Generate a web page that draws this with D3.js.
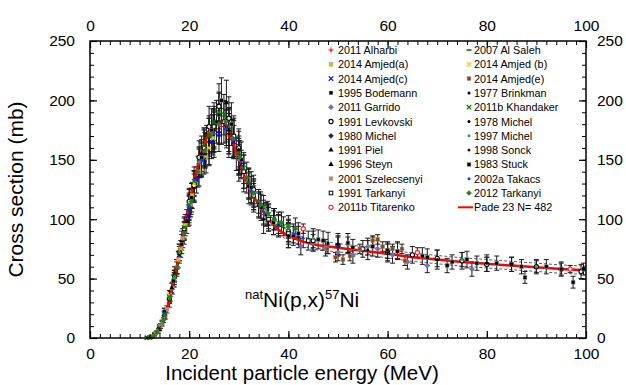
<!DOCTYPE html>
<html>
<head>
<meta charset="UTF-8">
<title>natNi(p,x)57Ni</title>
<script src="https://d3js.org/d3.v7.min.js"></script>
<style>
    body { margin: 0; background: #fff; }
    svg { display: block; font-family: Arial, "Liberation Sans", sans-serif; }
    .tick text { font-size: 15.5px; fill: #000; }
    .leg { font-size: 10.8px; fill: #000; }
</style>
</head>
<body>
<svg id="chart" width="626" height="385"></svg>
<script>
// ---- data: [energy MeV, cross section mb, error mb] ----
const alharbi2011 = [[13,3,1],[14.5,12,2],[16,30,4],[17.5,60,6],[19,90,8],[20.5,120,10],[22,147,12],[23.5,165,14],[25,175,15],[26.5,178,15],[28,170,15],[29.5,155,14],[31,135,12],[33,118,10],[35,104,9],[37,95,8]];
const amjedA2014 = [[12.5,1,1],[13.8,6,2],[15.2,19,3],[16.6,42,5],[17.8,66,7],[19.2,95,9],[20.6,120,11],[22,140,12],[23.4,152,13],[24.8,168,14]];
const amjedC2014 = [[18,70,7],[19.8,103,9],[21.5,133,11],[23,150,12],[24.5,165,14],[26,172,15],[27.5,177,15],[29,165,14],[30.5,146,12],[32,128,11],[34,112,10]];
const bodemann1995 = [[22.4,150,15],[26,188,18],[30,152,14],[35.5,104,10],[41,86,8],[47,82,8],[53,76,7],[60,74,7],[67,69,7],[73,64,6],[80,62,6],[87,60,6]];
const garrido2011 = [[40,89,8],[42.5,77,7],[45,80,7],[47.5,76,7],[50,72,7],[53,70,7],[56,77,7],[58,75,7],[61,70,7],[64,64,6],[68,61,6],[77,58,6]];
const levkovski1991 = [[14,8,1],[16,33,3],[18,72,7],[20,115,11],[22,152,14],[24,178,17],[26,195,19],[28,185,18],[30,160,16],[33,125,12],[36,102,10],[40,90,9],[45,82,8],[50,78,8],[55,75,7],[60,72,7],[65,70,7],[70,67,7],[75,65,7],[80,62,6],[85,62,6],[90,60,6],[95,58,6],[99,56,6]];
const michel1980 = [[15,22,3],[17,48,5],[20,108,11],[23,160,16],[26,182,18],[29,168,17],[32,130,13],[36,100,10],[42,85,9],[50,77,8]];
const piel1991 = [[18.5,82,8],[21,128,13],[25,175,18],[28,175,18],[31,140,14]];
const steyn1996 = [[16.5,42,4],[19.5,98,10],[22.5,155,15],[25.5,182,18],[27.5,198,19],[30,158,16],[34,112,11],[38,95,9]];
const szelecsenyi2001 = [[13.2,4,1],[14.2,10,2],[15.5,24,3],[17,50,5],[18.7,84,8],[20.3,112,10],[23.3,158,14]];
const tarkanyi1991 = [[15,20,2],[17,52,5],[19,92,9],[21,128,12],[23,160,15],[25,178,17],[27,182,18],[29,170,17],[31,140,14],[33,120,12],[36,100,10],[40,88,9],[44,82,8]];
const titarenko2011b = [[43,92,4],[66,72,4],[96.8,58,3]];
const alSaleh2007 = [[17.5,58,6],[20,110,11],[24,170,17],[28,172,17],[33,118,12]];
const amjedB2014 = [[14,9,2],[16,36,4],[18.3,75,7],[21,130,11],[24,160,14]];
const amjedE2014 = [[47.8,75,4],[49.5,68,4],[51,66,4],[52.4,69,4],[54.4,75,4],[57,82,4],[58,83,4],[59,77,4],[61,75,4],[62.9,75,4],[63.5,65,4]];
const brinkman1977 = [[20,110,15],[25,172,20],[30,150,18],[35,100,12],[40,86,10],[50,79,9],[60,72,8],[70,66,8],[80,63,7]];
const khandaker2011b = [[11.5,0.3,1],[12,0.5,1],[13,3,1],[14,9,2],[15,19,3],[16,33,4],[17,52,5],[18,72,7],[19,93,9],[20,112,10],[21,132,12],[22,148,13],[23,163,14],[24,170,15],[25,182,16],[26,190,17],[27,188,17],[28,178,16],[29,168,15],[30,156,14],[31,143,13],[32,130,12],[33,122,11],[34,115,10],[35,110,10],[36,104,9],[37,100,9],[38,97,9],[39,94,8],[40,92,8]];
const michel1978 = [[24,165,20],[28,172,20],[32,128,15],[40,86,10],[48,80,9],[56,74,8]];
const michel1997 = [[14.5,13,2],[17,50,5],[22,148,12],[30,150,13],[45,84,8],[52,78,7],[62,74,7],[75,66,6],[90,60,5]];
const sonck1998 = [[14,8,2],[17,55,5],[21,126,12],[25,175,16]];
const stuck1983 = [[12.2,0.8,0.5],[13.5,5,1],[15,22,3],[16.8,48,5],[18.5,79,8],[20.5,118,12],[22.5,152,15],[24.5,175,18],[26.5,200,19],[28.5,180,18],[30.5,150,15],[32.5,127,13],[34.5,110,11],[37,97,10],[42,88,9],[46,83,8],[52,80,8],[57,77,8],[62,73,7],[68,68,7],[72,61,6],[76,66,7],[78,63,6],[82,63,6],[85,62,6],[87.7,51,5],[92,60,6],[95,58,5],[97.4,47,5],[99.5,58,5]];
const takacs2002a = [[15,21,2],[17.5,60,6],[20,110,10],[22.5,150,14],[25,172,16],[27.5,176,16],[30,152,14],[32.5,124,12],[35,106,10],[38,94,9],[41,88,8],[43,84,8]];
const tarkanyi2012 = [[12.5,1,1],[13.5,5,1],[14.8,15,2],[16.2,35,4],[17.6,60,6],[19,88,9],[20.4,115,11],[21.8,140,13],[23.2,158,15],[24.6,172,16],[26,180,17],[27.4,182,17],[28.8,168,16],[30.2,152,14],[31.6,135,13],[33,122,12],[34.4,112,11],[35.8,105,10],[37.2,100,9],[38.6,97,9],[40,94,9],[41.4,92,9]];

// Pade fit and its uncertainty band
const padeE = [11.5,12,13,14,15,16,17,18,19,20,21,22,23,24,25,26,27,28,29,30,31,32,33,34,35,36,37,38,40,43,46,50,55,60,65,70,75,80,85,90,95,100];
const padeS = [0,0.5,2,7,17,32,50,70,92,113,133,150,163,173,180,183,182,175,163,150,138,127,119,112,106,100,95,91,86,81,78,76,73.5,71,68,66,64,62.5,61,59.5,58,57];
const padeUnc = [0,0,0,0,0,0,0,0,0,0,0,0,0,0,0,0,0,0,0,0,0,0,0,0,0,0,0,4,4,4,4,3.5,3.5,3.5,3.5,3.5,3.5,3.5,3.5,3.5,3.5,3.5];

const xTicks = [0, 20, 40, 60, 80, 100];
const yTicks = [0, 50, 100, 150, 200, 250];

// legend order: left column then right column
const leftCol = [
    ["2011 Alharbi", alharbi2011, "plus", "#ff0000"],
    ["2014 Amjed(a)", amjedA2014, "square", "#d8c800"],
    ["2014 Amjed(c)", amjedC2014, "x", "#0000ff"],
    ["1995 Bodemann", bodemann1995, "square", "#000000"],
    ["2011 Garrido", garrido2011, "diamond", "#7070b0"],
    ["1991 Levkovski", levkovski1991, "ocircle", "#000000"],
    ["1980 Michel", michel1980, "diamond", "#1a2060"],
    ["1991 Piel", piel1991, "triangle", "#000000"],
    ["1996 Steyn", steyn1996, "triangle", "#000000"],
    ["2001 Szelecsenyi", szelecsenyi2001, "square", "#e08040"],
    ["1991 Tarkanyi", tarkanyi1991, "osquare", "#000000"],
    ["2011b Titarenko", titarenko2011b, "ocircle", "#ff2020"]
];
const rightCol = [
    ["2007 Al Saleh", alSaleh2007, "dash", "#006000"],
    ["2014 Amjed (b)", amjedB2014, "x", "#ffc800"],
    ["2014 Amjed(e)", amjedE2014, "square", "#a04000"],
    ["1977 Brinkman", brinkman1977, "dot", "#000000"],
    ["2011b Khandaker", khandaker2011b, "x", "#008000"],
    ["1978 Michel", michel1978, "dot", "#000000"],
    ["1997 Michel", michel1997, "dot", "#30a070"],
    ["1998  Sonck", sonck1998, "dot", "#500000"],
    ["1983 Stuck", stuck1983, "square", "#000000"],
    ["2002a Takacs", takacs2002a, "dot", "#0040ff"],
    ["2012 Tarkanyi", tarkanyi2012, "diamond", "#208020"]
];

const margin = { top: 41, right: 40, bottom: 47, left: 90 };
const width = 626, height = 385;
const svg = d3.select("#chart");

const x = d3.scaleLinear().domain([0, 100]).range([margin.left, width - margin.right]);
const y = d3.scaleLinear().domain([0, 250]).range([height - margin.bottom, margin.top]);

function marker(g, type, color, cx, cy) {
    if (type === "plus") {
        g.append("path").attr("d", `M${cx-2.5},${cy}h5M${cx},${cy-2.5}v5`).attr("stroke", color).attr("stroke-width", 1.1);
    } else if (type === "x") {
        g.append("path").attr("d", `M${cx-2.2},${cy-2.2}l4.4,4.4M${cx-2.2},${cy+2.2}l4.4,-4.4`).attr("stroke", color).attr("stroke-width", 1.2);
    } else if (type === "square") {
        g.append("rect").attr("x", cx - 1.9).attr("y", cy - 1.9).attr("width", 3.8).attr("height", 3.8)
            .attr("fill", color).attr("stroke", "#999").attr("stroke-width", 0.5);
    } else if (type === "osquare") {
        g.append("rect").attr("x", cx - 1.8).attr("y", cy - 1.8).attr("width", 3.6).attr("height", 3.6)
            .attr("fill", "#fff").attr("stroke", color).attr("stroke-width", 1);
    } else if (type === "dot") {
        g.append("circle").attr("cx", cx).attr("cy", cy).attr("r", 1.5).attr("fill", color);
    } else if (type === "ocircle") {
        g.append("circle").attr("cx", cx).attr("cy", cy).attr("r", 2.1).attr("fill", "#fff")
            .attr("stroke", color).attr("stroke-width", 1.1);
    } else if (type === "diamond") {
        g.append("path").attr("d", `M${cx},${cy-2.6}L${cx+2.6},${cy}L${cx},${cy+2.6}L${cx-2.6},${cy}Z`)
            .attr("fill", color).attr("stroke", "#666").attr("stroke-width", 0.4);
    } else if (type === "triangle") {
        g.append("path").attr("d", d3.symbol(d3.symbolTriangle, 12)()).attr("transform", `translate(${cx},${cy})`).attr("fill", color);
    } else if (type === "dash") {
        g.append("path").attr("d", `M${cx-2.5},${cy}h5`).attr("stroke", color).attr("stroke-width", 1.5);
    }
}

const allSeries = leftCol.concat(rightCol);

// uncertainty band of the fit
const band = padeE.map((e, i) => ({ e, s: padeS[i], u: padeUnc[i] })).filter(d => d.u > 0);
["hi", "lo"].forEach(k => {
    svg.append("path")
        .datum(band)
        .attr("fill", "none").attr("stroke", "#333").attr("stroke-width", 0.8).attr("stroke-dasharray", "3,2")
        .attr("d", d3.line().x(d => x(d.e)).y(d => y(k === "hi" ? d.s + d.u : d.s - d.u)));
});

// error bars
const eb = svg.append("g").attr("stroke", "#1a1a1a").attr("stroke-width", 1);
allSeries.forEach(([name, data]) => {
    data.forEach(([e, s, err]) => {
        if (err <= 0) return;
        const px = x(e), y0 = y(s - err), y1 = y(s + err);
        eb.append("path").attr("d", `M${px},${y0}V${y1}M${px-2.5},${y0}h5M${px-2.5},${y1}h5`);
    });
});

// fit line
svg.append("path")
    .datum(padeE.map((e, i) => [e, padeS[i]]))
    .attr("fill", "none").attr("stroke", "#ff0000").attr("stroke-width", 2.5)
    .attr("d", d3.line().x(d => x(d[0])).y(d => y(d[1])));

// markers
const mk = svg.append("g");
allSeries.forEach(([name, data, type, color]) => {
    data.forEach(([e, s]) => marker(mk, type, color, x(e), y(s)));
});

// axes (ticks inward on all four sides)
function addAxis(axisFn, scale, transform, major, minor, pad) {
    svg.append("g").attr("transform", transform)
        .call(axisFn(scale).tickValues(minor).tickSize(-4).tickFormat(""))
        .call(g => g.select(".domain").remove());
    const a = svg.append("g").attr("transform", transform)
        .call(axisFn(scale).tickValues(major).tickSize(-7).tickPadding(pad).tickFormat(d3.format("d")))
        .call(g => g.select(".domain").remove());
    a.selectAll("line").attr("stroke-width", 1.2);
}
const xMinor = d3.range(0, 101, 2), yMinor = d3.range(0, 251, 10);
addAxis(d3.axisBottom, x, `translate(0,${y(0)})`, xTicks, xMinor, 10);
addAxis(d3.axisTop, x, `translate(0,${y(250)})`, xTicks, xMinor, 10);
addAxis(d3.axisLeft, y, `translate(${x(0)},0)`, yTicks, yMinor, 15);
addAxis(d3.axisRight, y, `translate(${x(100)},0)`, yTicks, yMinor, 11);

svg.append("rect")
    .attr("x", x(0)).attr("y", y(250)).attr("width", x(100) - x(0)).attr("height", y(0) - y(250))
    .attr("fill", "none").attr("stroke", "#000").attr("stroke-width", 1.5);

// legend
const rowH = 14.3, legTop = 50;
[[leftCol, 331, 338], [rightCol, 469, 474]].forEach(([col, mx, tx]) => {
    col.forEach(([name, data, type, color], i) => {
        const cy = legTop + i * rowH;
        marker(svg, type, color, mx, cy);
        svg.append("text").attr("class", "leg").attr("x", tx).attr("y", cy + 4).text(name);
    });
});
const padeRow = legTop + rightCol.length * rowH;
svg.append("path").attr("d", `M458,${padeRow}h15`).attr("stroke", "#ff0000").attr("stroke-width", 2);
svg.append("text").attr("class", "leg").attr("x", 474).attr("y", padeRow + 4).text("Pade 23 N= 482");

// reaction label
const lab = svg.append("text").attr("x", 245).attr("y", 307).attr("font-size", 21);
lab.append("tspan").attr("font-size", 13).attr("dy", -8).text("nat");
lab.append("tspan").attr("dy", 8).text("Ni(p,x)");
lab.append("tspan").attr("font-size", 13).attr("dy", -8).text("57");
lab.append("tspan").attr("dy", 8).text("Ni");

// axis titles
svg.append("text").attr("x", 302).attr("y", 380).attr("text-anchor", "middle").attr("font-size", 20.5)
    .text("Incident particle energy (MeV)");
svg.append("text").attr("transform", `translate(23,${(y(0) + y(250)) / 2}) rotate(-90)`)
    .attr("text-anchor", "middle").attr("font-size", 21).text("Cross section (mb)");
</script>
</body>
</html>
